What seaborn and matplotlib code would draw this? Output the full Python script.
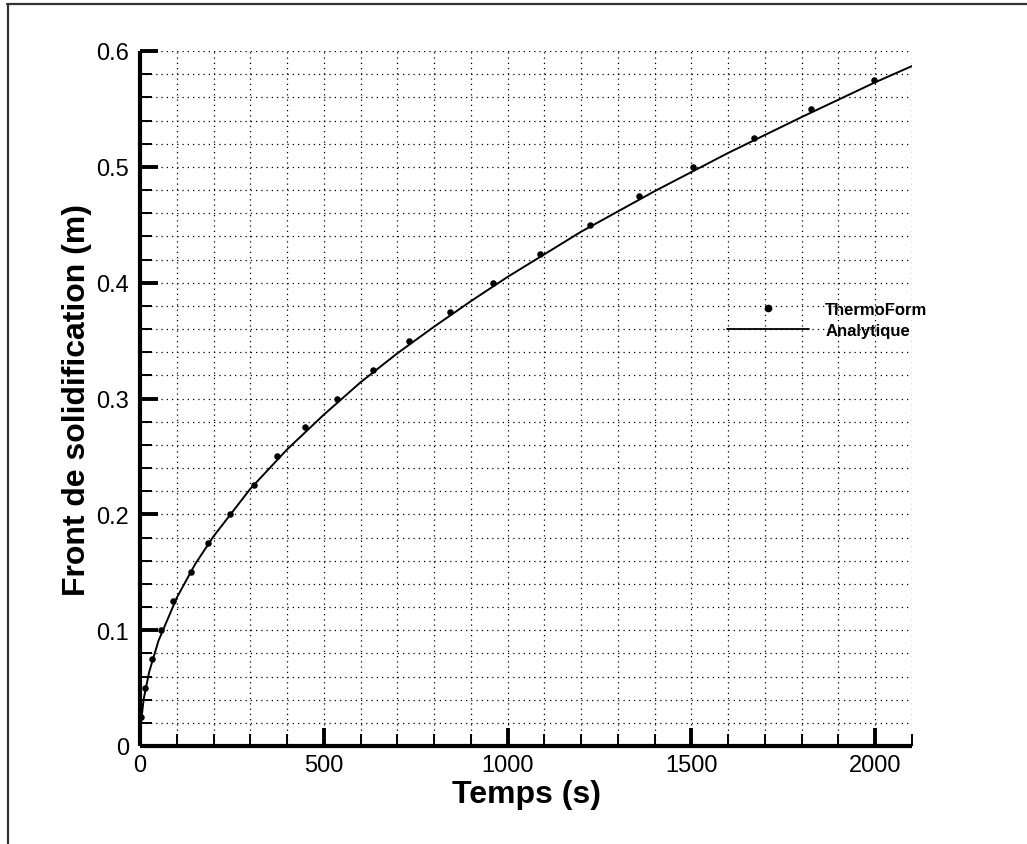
import numpy as np
import pandas as pd
import matplotlib
matplotlib.use("Agg")
import matplotlib.pyplot as plt
import seaborn as sns
from matplotlib.ticker import MultipleLocator, FuncFormatter
from matplotlib.lines import Line2D

# ---- data ----
thermo_t = [4, 13, 32, 57, 90, 140, 185, 244, 309, 372, 448, 535, 635, 733,
            844, 961, 1088, 1224, 1357, 1503, 1669, 1826, 1997]
thermo_y = [0.025, 0.05, 0.075, 0.1, 0.125, 0.15, 0.175, 0.2, 0.225, 0.25,
            0.275, 0.3, 0.325, 0.35, 0.375, 0.4, 0.425, 0.45, 0.475, 0.5,
            0.525, 0.55, 0.575]

analytic_t = [2, 10, 25, 50, 100, 150, 200, 300, 400, 500, 600, 700, 800,
              900, 1000, 1200, 1400, 1600, 1800, 2000, 2100]
analytic_y = [0.018, 0.0405, 0.064, 0.0906, 0.128, 0.157, 0.181, 0.222, 0.256,
              0.286, 0.314, 0.339, 0.362, 0.384, 0.405, 0.444, 0.479, 0.512,
              0.543, 0.573, 0.587]

x_major = [0, 500, 1000, 1500, 2000]
y_major = [0, 0.1, 0.2, 0.3, 0.4, 0.5, 0.6]

label_x = "Temps (s)"
label_y = "Front de solidification (m)"
legend_labels = ["ThermoForm", "Analytique"]

df_pts = pd.DataFrame({"t": thermo_t, "y": thermo_y})
df_line = pd.DataFrame({"t": analytic_t, "y": analytic_y})

sns.set_style("white")
plt.rcParams["font.family"] = ["Liberation Sans", "DejaVu Sans"]
plt.rcParams["text.color"] = "black"
plt.rcParams["axes.labelcolor"] = "black"
plt.rcParams["xtick.color"] = "black"
plt.rcParams["ytick.color"] = "black"
plt.rcParams["xtick.labelcolor"] = "black"
plt.rcParams["ytick.labelcolor"] = "black"

fig = plt.figure(figsize=(10.27, 8.45), dpi=100)
ax = fig.add_axes([140 / 1027, 1 - 747 / 845, 772 / 1027, 695 / 845])

sns.lineplot(data=df_line, x="t", y="y", ax=ax, color="black", lw=1.4,
             sort=False, label=legend_labels[1], legend=False)
sns.scatterplot(data=df_pts, x="t", y="y", ax=ax, color="black", s=22,
                edgecolor="black", linewidth=0, label=legend_labels[0],
                legend=False, zorder=3)

ax.set_xlim(0, 2100)
ax.set_ylim(0, 0.6)
ax.xaxis.set_major_locator(matplotlib.ticker.FixedLocator(x_major))
ax.yaxis.set_major_locator(matplotlib.ticker.FixedLocator(y_major))
ax.xaxis.set_minor_locator(MultipleLocator(100))
ax.yaxis.set_minor_locator(MultipleLocator(0.02))
ax.xaxis.set_major_formatter(FuncFormatter(lambda v, p: f"{v:g}"))
ax.yaxis.set_major_formatter(FuncFormatter(lambda v, p: f"{v:g}"))

ax.set_axisbelow(True)
ax.grid(which="both", color="black", linewidth=0.9, linestyle=(0, (1, 3.2)))

for s in ["top", "right"]:
    ax.spines[s].set_visible(False)
for s in ["left", "bottom"]:
    ax.spines[s].set_visible(True)
    ax.spines[s].set_linewidth(3.0)
    ax.spines[s].set_color("black")
    ax.spines[s].set_capstyle("butt")

ax.tick_params(which="major", direction="in", length=13, width=2.8,
               color="black", labelsize=17, labelcolor="black",
               left=True, bottom=True)
ax.tick_params(which="minor", direction="in", length=8.5, width=1.4,
               color="black", left=True, bottom=True)
ax.tick_params(axis="y", which="major", pad=8)
ax.tick_params(axis="x", which="major", pad=6)

ax.set_xlabel(label_x, fontsize=23, fontweight="bold", labelpad=2,
              color="black")
ax.set_ylabel(label_y, fontsize=23, fontweight="bold", labelpad=3,
              color="black")

handles = [
    Line2D([], [], marker="o", color="black", linestyle="none", markersize=4.5),
    Line2D([], [], color="black", lw=1.3),
]
leg = ax.legend(handles, legend_labels, loc="upper left",
                bbox_to_anchor=((727 - 140) / 772, (747 - 303) / 695),
                frameon=False, borderpad=0, borderaxespad=0,
                handlelength=4.9, handletextpad=1.0, labelspacing=0.35,
                prop={"size": 12, "weight": "bold"})
for t in leg.get_texts():
    t.set_color("black")

# figure frame lines (top and left)
fig.add_artist(Line2D([7 / 1027, 1.0], [1 - 5 / 845, 1 - 5 / 845],
                      transform=fig.transFigure, color="#333333", lw=1.6))
fig.add_artist(Line2D([8 / 1027, 8 / 1027], [0.0, 1 - 5 / 845],
                      transform=fig.transFigure, color="#333333", lw=1.6))

fig.savefig("out.png", dpi=100)
